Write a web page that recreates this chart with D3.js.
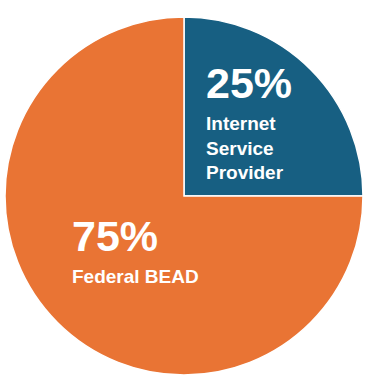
<!DOCTYPE html>
<html lang="en">
<head>
<meta charset="UTF-8">
<script src="https://d3js.org/d3.v7.min.js"></script>
<style>
  body { margin: 0; background: #fff; }
  text { font-family: "Liberation Sans", Arial, sans-serif; fill: #fff; font-weight: bold; }
</style>
</head>
<body>
<div id="container"></div>
<script>
// data
var categories = ["Internet Service Provider", "Federal BEAD"];
var values = [25, 75];
var labelLines = [["Internet", "Service", "Provider"], ["Federal BEAD"]];
var colors = ["#175f82", "#e97434"];

var width = 377, height = 388,
    cx = 184, cy = 196, radius = 179;

var svg = d3.select("#container").append("svg")
    .attr("width", width).attr("height", height);

var g = svg.append("g").attr("transform", `translate(${cx},${cy})`);

var data = categories.map((c, i) => ({ name: c, val: values[i], lines: labelLines[i], color: colors[i] }));

var pie = d3.pie().sort(null).value(d => d.val);
var arc = d3.arc().innerRadius(0).outerRadius(radius);

var slices = g.selectAll(".slice")
    .data(pie(data))
    .enter()
    .append("g")
    .attr("class", "slice");

slices.append("path")
    .attr("d", arc)
    .style("fill", d => d.data.color)
    .style("stroke", "#fff")
    .style("stroke-width", 1.5);

// label anchor positions relative to center (baseline of big number)
var labelPos = [[22, -98], [-112, 55]];

var labels = slices.append("g")
    .attr("transform", (d, i) => `translate(${labelPos[i][0]},${labelPos[i][1]})`);

labels.append("text")
    .attr("font-size", 43)
    .text(d => d.data.val + "%");

labels.each(function (d) {
    var sel = d3.select(this);
    d.data.lines.forEach(function (line, j) {
        sel.append("text")
            .attr("y", 32 + j * 24.5)
            .attr("font-size", 19)
            .text(line);
    });
});
</script>
</body>
</html>
